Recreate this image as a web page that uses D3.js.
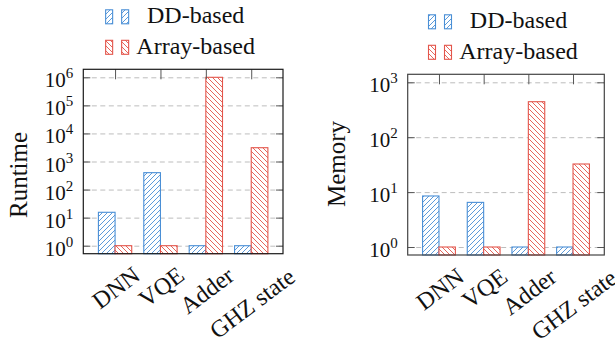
<!doctype html>
<html lang="en">
  <head>
    <meta charset="UTF-8" />
    <title>Runtime and Memory</title>
    <script src="https://unpkg.com/d3@7.9.0/dist/d3.min.js"></script>
    <style>
      body {
        margin: 0;
        overflow: hidden;
        background: #fff;
      }
      svg text {
        font-family: 'Liberation Serif', 'DejaVu Serif', serif;
      }
      .grid line {
        stroke: #bdbdbd;
        stroke-dasharray: 5, 3.5;
      }
      .grid .domain,
      .tickmarks .domain {
        display: none;
      }
      .tickmarks line {
        stroke: #555;
      }
    </style>
  </head>
  <body>
    <svg width="615" height="344"></svg>

    <script>
      // data
      const benchmarks = ['DNN', 'VQE', 'Adder', 'GHZ state'];
      const seriesNames = ['DD-based', 'Array-based'];
      const runtimeDD = [15.5, 400, 1, 1];
      const runtimeArray = [1, 1, 1e6, 3100];
      const memoryDD = [8.5, 6.5, 1, 1];
      const memoryArray = [1, 1, 443, 32.5];
      const runtimeTicks = [1, 10, 100, 1e3, 1e4, 1e5, 1e6];
      const memoryTicks = [1, 10, 100, 1e3];

      const colors = ['#4a8fd6', '#e3554b'];
      const serif = "'Liberation Serif', 'DejaVu Serif', serif";
      const svg = d3.select('svg');

      // hatch patterns: north east lines for DD, north west lines for array
      const defs = svg.append('defs');
      const hatches = [
        'M-1,1 l2,-2 M0,5 l5,-5 M4,6 l2,-2',
        'M-1,4 l2,2 M0,0 l5,5 M4,-1 l2,2',
      ];
      hatches.forEach((p, s) => {
        const pat = defs
          .append('pattern')
          .attr('id', 'hatch' + s)
          .attr('patternUnits', 'userSpaceOnUse')
          .attr('width', 5)
          .attr('height', 5);
        pat.append('rect').attr('width', 5).attr('height', 5).attr('fill', '#fff');
        pat
          .append('path')
          .attr('d', p)
          .attr('stroke', colors[s])
          .attr('stroke-width', 0.9);
      });

      function drawPanel(cfg) {
        const g = svg.append('g');
        const n = benchmarks.length;
        const x = d3
          .scaleLinear()
          .domain([-0.7, n - 0.3])
          .range([cfg.left, cfg.right]);
        const y = d3
          .scaleLog()
          .domain([cfg.ticks[0], cfg.ticks[cfg.ticks.length - 1]])
          .range([cfg.base, cfg.peak]);
        const top = cfg.peak - 8;
        const bottom = cfg.base + 8;
        const w = cfg.right - cfg.left;
        const bw = (x(1) - x(0)) * 0.367;

        // dashed grid
        g.append('g')
          .attr('class', 'grid')
          .attr('transform', `translate(${cfg.left},0)`)
          .call(d3.axisLeft(y).tickValues(cfg.ticks).tickSize(-w).tickFormat(''));

        // bars
        [cfg.dd, cfg.arr].forEach((vals, s) => {
          g.append('g')
            .selectAll('rect')
            .data(vals)
            .join('rect')
            .attr('x', (d, i) => x(i) - bw + s * bw)
            .attr('y', (d) => y(d))
            .attr('width', bw)
            .attr('height', (d) => bottom - y(d))
            .attr('fill', `url(#hatch${s})`)
            .attr('stroke', colors[s])
            .attr('stroke-width', 1.1);
        });

        // inner tick marks
        g.append('g')
          .attr('class', 'tickmarks')
          .attr('transform', `translate(${cfg.left},0)`)
          .call(d3.axisLeft(y).tickValues(cfg.ticks).tickSize(-7).tickFormat(''));
        g.append('g')
          .attr('class', 'tickmarks')
          .attr('transform', `translate(${cfg.right},0)`)
          .call(d3.axisRight(y).tickValues(cfg.ticks).tickSize(-7).tickFormat(''));
        g.append('g')
          .attr('class', 'tickmarks')
          .attr('transform', `translate(0,${top})`)
          .call(d3.axisTop(x).tickValues(d3.range(n)).tickSize(-10).tickFormat(''));

        // frame
        g.append('rect')
          .attr('x', cfg.left)
          .attr('y', top)
          .attr('width', w)
          .attr('height', bottom - top)
          .attr('fill', 'none')
          .attr('stroke', cfg.frame)
          .attr('stroke-width', 1.2);

        // y tick labels 10^k
        const yl = g
          .append('g')
          .selectAll('text')
          .data(cfg.ticks)
          .join('text')
          .attr('x', cfg.left - 10)
          .attr('y', (d) => y(d) + 10)
          .attr('text-anchor', 'end')
          .attr('font-family', serif)
          .attr('font-size', 21)
          .attr('fill', '#111');
        yl.append('tspan').text('10');
        yl.append('tspan')
          .attr('dy', -9)
          .attr('font-size', 15)
          .text((d) => Math.round(Math.log10(d)));

        // x tick labels, rotated
        g.append('g')
          .selectAll('text')
          .data(benchmarks)
          .join('text')
          .attr('text-anchor', 'middle')
          .attr('dominant-baseline', 'central')
          .attr('font-family', serif)
          .attr('font-size', 24)
          .attr('fill', '#111')
          .text((d) => d)
          .attr('transform', function (d, i) {
            const len = this.getComputedTextLength();
            return `translate(${x(i) + 1},${bottom + 17 + 0.33 * len}) rotate(-37)`;
          });

        // y axis label
        g.append('text')
          .attr('transform', `translate(${cfg.labelX},${cfg.labelY}) rotate(-90)`)
          .attr('text-anchor', 'middle')
          .attr('font-family', serif)
          .attr('font-size', 25)
          .attr('fill', '#111')
          .text(cfg.label);

        // legend
        const cx = (cfg.left + cfg.right) / 2 + 12.5;
        seriesNames.forEach((name, s) => {
          const base = top - 46 + s * 30.5;
          [-90, -74].forEach((off) => {
            g.append('rect')
              .attr('x', cx + off)
              .attr('y', base - 13.5)
              .attr('width', 7)
              .attr('height', 14)
              .attr('fill', `url(#hatch${s})`)
              .attr('stroke', colors[s])
              .attr('stroke-width', 1.1);
          });
          g.append('text')
            .attr('x', cx)
            .attr('y', base)
            .attr('text-anchor', 'middle')
            .attr('font-family', serif)
            .attr('font-size', 24)
            .attr('fill', '#111')
            .text(name);
        });
      }

      drawPanel({
        left: 83.3,
        right: 283,
        base: 245.7,
        peak: 77.3,
        ticks: runtimeTicks,
        dd: runtimeDD,
        arr: runtimeArray,
        label: 'Runtime',
        labelX: 27,
        labelY: 175,
        frame: '#1a1a1a',
      });

      drawPanel({
        left: 407.7,
        right: 604.3,
        base: 247,
        peak: 82.3,
        ticks: memoryTicks,
        dd: memoryDD,
        arr: memoryArray,
        label: 'Memory',
        labelX: 345,
        labelY: 164,
        frame: '#444',
      });
    </script>
  </body>
</html>
